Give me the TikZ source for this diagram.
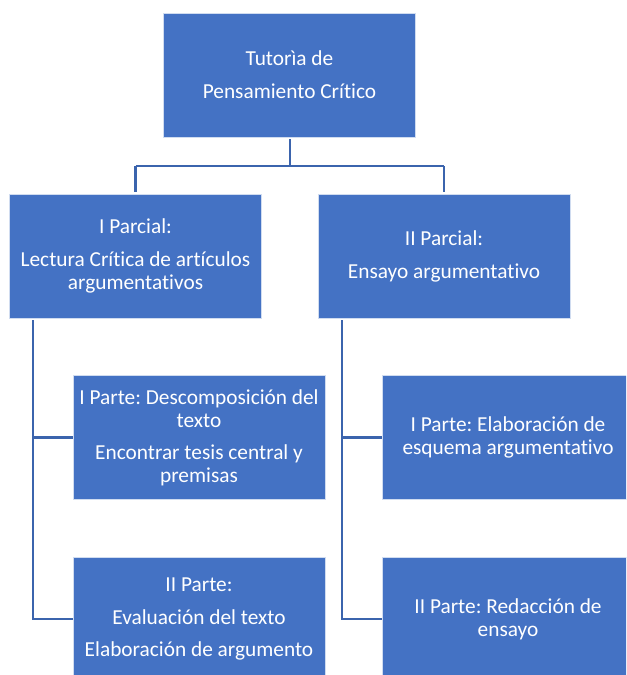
\documentclass[tikz,border=0pt]{standalone}
\usepackage{fontspec}
\setmainfont{Carlito}[Ligatures={NoCommon}]
\definecolor{boxblue}{HTML}{4472C4}
\definecolor{lineblue}{HTML}{3B64AD}
\begin{document}
\frenchspacing
\begin{tikzpicture}[x=0.75pt,y=-0.75pt,
  box/.style={rectangle, fill=boxblue, draw=white!75!boxblue, line width=0.6pt,
    minimum width=189pt, minimum height=93pt, inner sep=1pt, align=center,
    text=white, font=\fontsize{16pt}{17.4pt}\selectfont\frenchspacing},
  conn/.style={draw=lineblue, line width=1.6pt}]
\useasboundingbox (0,0) rectangle (626,675);
\clip (0,0) rectangle (626,675);
\node[box] (top) at (289.5,75) {Tutorìa de\\[7.3pt]Pensamiento Crítico};
\node[box] (L) at (135.5,256) {I Parcial:\\[7.3pt]Lectura Crítica de artículos\\argumentativos};
\node[box] (R) at (444,256) {II Parcial:\\[7.3pt]Ensayo argumentativo};
\node[box] (LA) at (199,437.5) {I Parte: Descomposición del\\texto\\[6.5pt]Encontrar tesis central y\\premisas};
\node[box] (LB) at (199,619) {II Parte:\\[7.3pt]Evaluación del texto\\[7.3pt]Elaboración de argumento};
\node[box] (RA) at (508,437.5) {I Parte: Elaboración de\\esquema argumentativo};
\node[box] (RB) at (508,619) {II Parte: Redacción de\\ensayo};
\coordinate (j) at (290,166);
\coordinate (lv) at (33,320);
\coordinate (rv) at (342,320);
\draw[conn] (290,139) coordinate (t0) -- (j);
\draw[conn] (135.5,166) -- (444,166);
\draw[conn] (135.5,166) -- (135.5,192);
\draw[conn] (444,166) -- (444,192);
\draw[conn] (lv) |- (LA.west);
\draw[conn] (lv) |- (LB.west);
\draw[conn] (rv) |- (RA.west);
\draw[conn] (rv) |- (RB.west);
\end{tikzpicture}
\end{document}
